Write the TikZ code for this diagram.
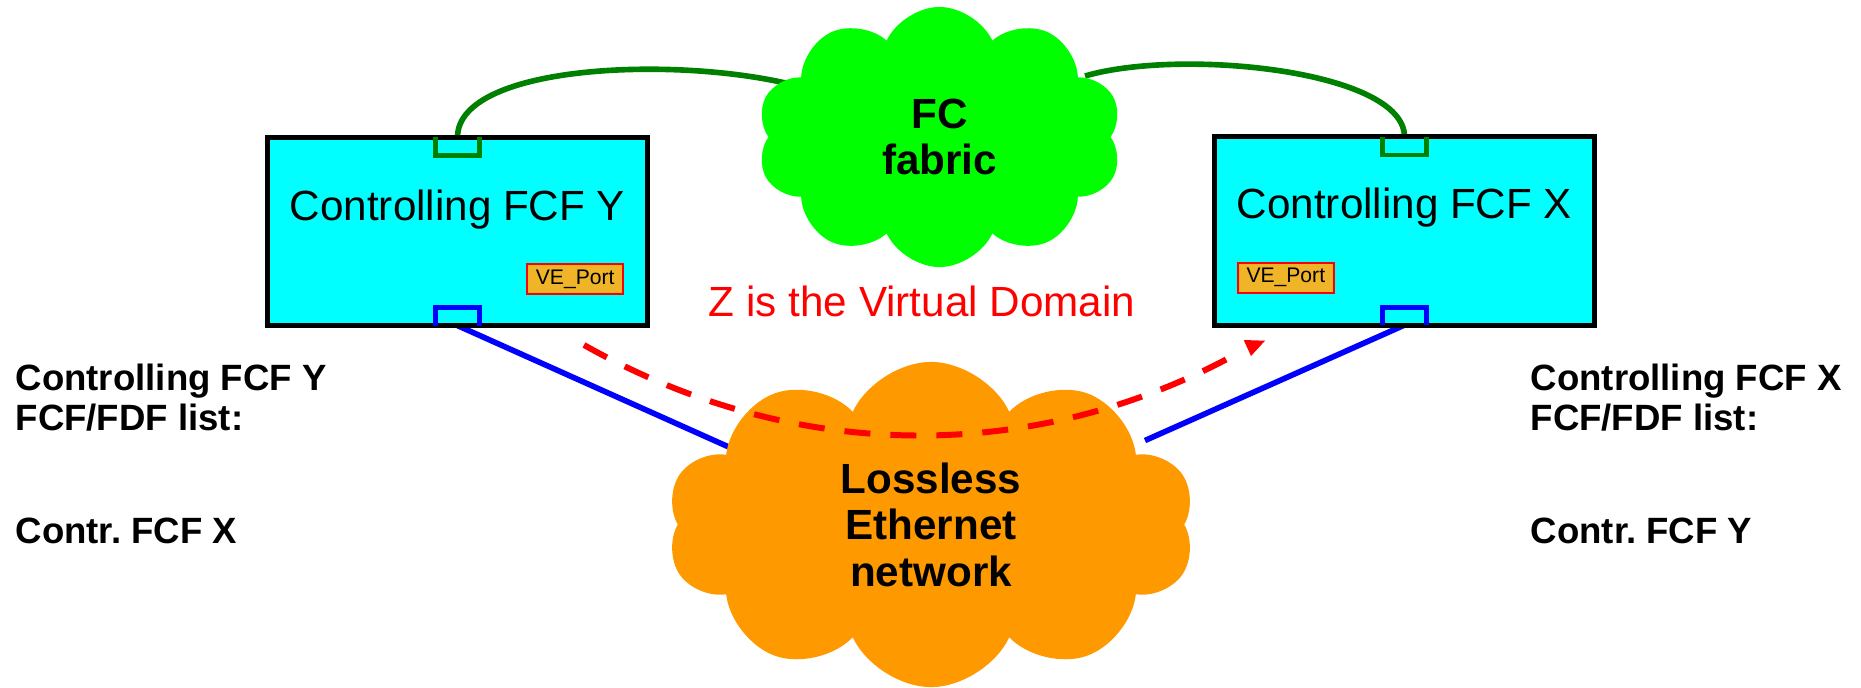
\documentclass[tikz,border=0pt]{standalone}
\usepackage{fontspec}
\setmainfont{Liberation Sans}
\usetikzlibrary{positioning,shapes.symbols,calc,backgrounds}
\definecolor{fcgreen}{RGB}{0,255,0}
\definecolor{ethorange}{RGB}{255,153,0}
\definecolor{portorange}{RGB}{240,180,40}
\definecolor{linkgreen}{RGB}{0,128,0}
\definecolor{boxcyan}{RGB}{0,255,255}
\frenchspacing

\begin{document}
\begin{tikzpicture}
[x=0.01cm, y=-0.01cm,
% STYLES
% The fcf style is used to draw the controlling FCF boxes
fcf/.style={rectangle, draw=black, line width=1.4pt, fill=boxcyan, minimum width=3.8cm, minimum height=1.88cm, inner sep=0pt, outer sep=0pt},
fcfname/.style={anchor=base, font=\fontsize{12}{14}\selectfont},
% The vport style is used for the small VE_Port tags
vport/.style={rectangle, draw=red, line width=0.5pt, fill=portorange, minimum width=0.96cm, minimum height=0.3cm, inner sep=0pt, font=\fontsize{6}{7}\selectfont},
% ports sitting on the box borders
boxport/.style={rectangle, minimum width=0.44cm, minimum height=0.18cm, inner sep=0pt, outer sep=0pt},
fabline/.style={draw=linkgreen, line width=1.6pt},
ethline/.style={draw=blue, line width=1.6pt},
netcloud/.style={cloud, cloud puffs=10, cloud puff arc=130, cloud ignores aspect, align=center, inner sep=0pt, font=\bfseries\fontsize{12}{13.2}\selectfont},
listtext/.style={anchor=base west, inner sep=0pt, font=\bfseries\fontsize{10.4}{12}\selectfont},
vdomain/.style={red, dash pattern=on 0.26cm off 0.2cm, line width=1.7pt}]

\useasboundingbox (0,0) rectangle (1861,687);

% Draw clouds
\node [netcloud, fill=fcgreen, minimum width=3.65cm, minimum height=2.6cm] (fabric) at (939.5,137) {FC\\fabric};
\node [netcloud, fill=ethorange, minimum width=5.28cm, minimum height=3.25cm] (ethnet) at (931,524.5) {Lossless\\Ethernet\\network};

% Draw FCF boxes
\node [fcf] (fcfy) at (457.5,231.5) {};
\node [fcf] (fcfx) at (1404.5,231) {};
\node [fcfname] (fcfy-name) at ($(fcfy.center)+(0,-11.5)$) {Controlling FCF Y};
\node [fcfname] (fcfx-name) at ($(fcfx.center)+(0,-13)$) {Controlling FCF X};

\node [vport, above left=0.305cm and 0.235cm of fcfy.south east] (fcfy-ve) {VE\_Port};
\node [vport, above right=0.315cm and 0.225cm of fcfx.south west] (fcfx-ve) {VE\_Port};

% ports
\node [boxport, below=0pt of fcfy.north] (fcfy-fab) {};
\node [boxport, above=0pt of fcfy.south] (fcfy-eth) {};
\node [boxport, below=0pt of fcfx.north] (fcfx-fab) {};
\node [boxport, above=0pt of fcfx.south] (fcfx-eth) {};

\draw [linkgreen, line width=1.2pt] (fcfy-fab.north west) |- (fcfy-fab.south east) -- (fcfy-fab.north east);
\draw [linkgreen, line width=1.2pt] (fcfx-fab.north west) |- (fcfx-fab.south east) -- (fcfx-fab.north east);
\draw [blue, line width=1.4pt] (fcfy-eth.south west) |- (fcfy-eth.north east) -- (fcfy-eth.south east);
\draw [blue, line width=1.4pt] (fcfx-eth.south west) |- (fcfx-eth.north east) -- (fcfx-eth.south east);

% Draw the links into the clouds
\coordinate (fabric-l) at (805,88);
\coordinate (fabric-r) at (1085,76);
\coordinate (ethnet-l) at (740,452);
\coordinate (ethnet-r) at (1145,440.5);

\begin{scope}[on background layer]
\draw [fabline] (fcfy-fab.north) .. controls (457.5,62) and (690,55) .. (fabric-l);
\draw [fabline] (fcfx-fab.north) .. controls (1404.5,70) and (1180,48) .. (fabric-r);
\draw [ethline] (fcfy-eth.south) -- (ethnet-l);
\draw [ethline] (fcfx-eth.south) -- (ethnet-r);
\end{scope}

% virtual domain
\node [red, anchor=base, font=\fontsize{12}{14}\selectfont] (vd-label) at (922,316) {Z is the Virtual Domain};
\coordinate (vd-start) at (584,345);
\coordinate (vd-end) at (1240,352);
\draw [vdomain] (vd-start) .. controls (804,469) and (1045,460) .. (vd-end);
\fill [red] ($(vd-end)+(3.7,-12)$) -- ($(vd-end)+(25,-11.3)$) -- ($(vd-end)+(11,4)$) -- cycle;

% FCF/FDF lists
\node [listtext] (ylist-hd) at (15,390) {Controlling FCF Y};
\node [listtext] (ylist-sub) at (15,430) {FCF/FDF list:};
\node [listtext] (ylist-item) at (15,543) {Contr. FCF X};
\node [listtext] (xlist-hd) at (1530,390) {Controlling FCF X};
\node [listtext] (xlist-sub) at (1530,430) {FCF/FDF list:};
\node [listtext] (xlist-item) at (1530,543) {Contr. FCF Y};

\end{tikzpicture}
\end{document}
